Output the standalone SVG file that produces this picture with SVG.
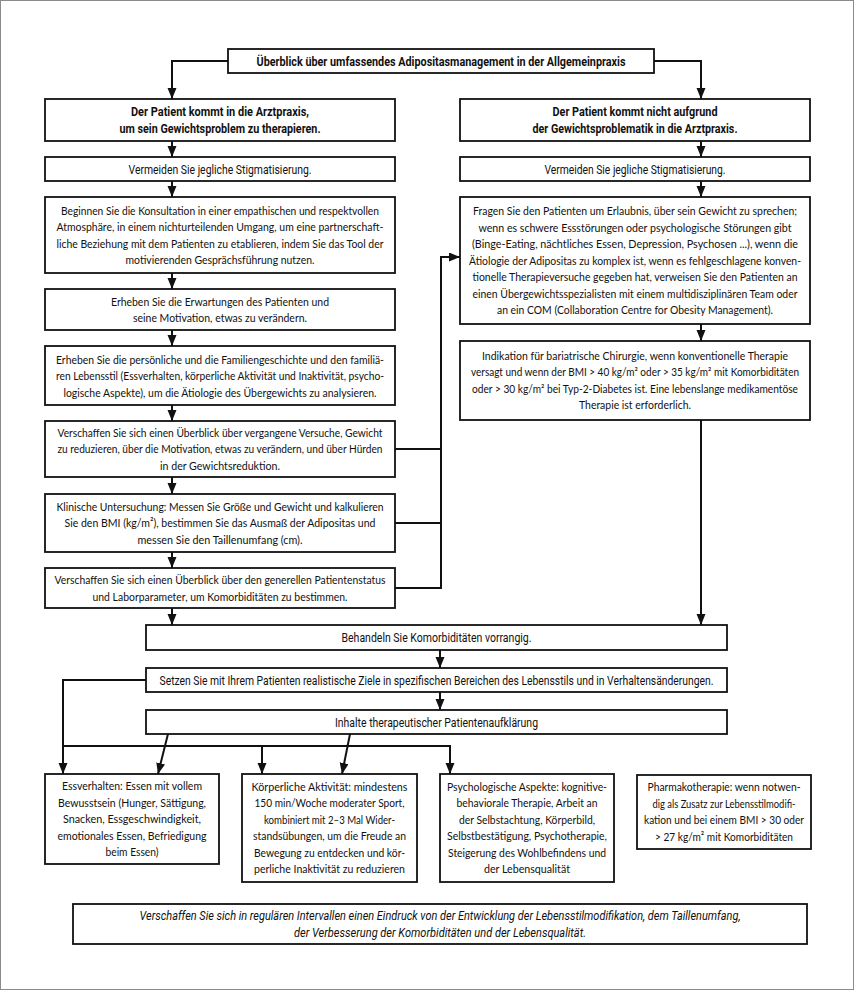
<svg xmlns="http://www.w3.org/2000/svg" width="854" height="990" viewBox="0 0 854 990">
<style>
.box{fill:#fff;stroke:#111;stroke-width:1.8}
.t{font-family:Lato,"Open Sans","Liberation Sans",Arial,sans-serif;font-size:12.3px;fill:#111;text-anchor:middle}
.s{font-size:11.4px}
.c{font-family:"Liberation Sans Narrow",Roboto,"Liberation Sans",Arial,sans-serif;font-size:13px;fill:#111;text-anchor:middle}
.b{font-weight:bold}
.i{font-style:italic}
.ln{fill:none;stroke:#111;stroke-width:2}
</style>
<defs>
<marker id="ah" markerUnits="userSpaceOnUse" markerWidth="12" markerHeight="10" refX="11" refY="4.5" orient="auto">
<path d="M0,0 L11,4.5 L0,9 z" fill="#111"/>
</marker>
</defs>
<rect x="0.5" y="0.5" width="853" height="989" fill="#fff" stroke="#8a8a8a" stroke-width="1"/>

<g id="connectors">
<path class="ln" d="M228,61 H172 V99" marker-end="url(#ah)"/>
<path class="ln" d="M654,61 H701 V99" marker-end="url(#ah)"/>
<path class="ln" d="M172,141 V157" marker-end="url(#ah)"/>
<path class="ln" d="M172,181 V197" marker-end="url(#ah)"/>
<path class="ln" d="M172,273 V289" marker-end="url(#ah)"/>
<path class="ln" d="M172,330 V346" marker-end="url(#ah)"/>
<path class="ln" d="M172,405 V421" marker-end="url(#ah)"/>
<path class="ln" d="M172,477 V494" marker-end="url(#ah)"/>
<path class="ln" d="M172,552 V568" marker-end="url(#ah)"/>
<path class="ln" d="M172,608 V625" marker-end="url(#ah)"/>
<path class="ln" d="M701,141 V157" marker-end="url(#ah)"/>
<path class="ln" d="M701,181 V197" marker-end="url(#ah)"/>
<path class="ln" d="M701,324 V341" marker-end="url(#ah)"/>
<path class="ln" d="M701,420 V625" marker-end="url(#ah)"/>
<path class="ln" d="M395,449 H441"/>
<path class="ln" d="M395,523 H441"/>
<path class="ln" d="M395,588 H441 V257 H460" marker-end="url(#ah)"/>
<path class="ln" d="M440,650 V668" marker-end="url(#ah)"/>
<path class="ln" d="M440,692 V710" marker-end="url(#ah)"/>
<path class="ln" d="M146,680 H63 V774" marker-end="url(#ah)"/>
<path class="ln" d="M63,746 H450 V774" marker-end="url(#ah)"/>
<path class="ln" d="M262,746 V774" marker-end="url(#ah)"/>
<path class="ln" d="M168,734 L158,774" marker-end="url(#ah)"/>
<path class="ln" d="M350,734 L342,774" marker-end="url(#ah)"/>
</g>

<g id="top">
<rect class="box" x="228" y="49" width="426" height="24"/>
<text class="c b" x="441" y="65.5" textLength="369" lengthAdjust="spacingAndGlyphs">Überblick über umfassendes Adipositasmanagement in der Allgemeinpraxis</text>
</g>

<g id="left-header">
<rect class="box" x="45" y="99" width="350" height="42"/>
<text class="c b" x="220" y="116" textLength="178" lengthAdjust="spacingAndGlyphs">Der Patient kommt in die Arztpraxis,</text>
<text class="c b" x="220" y="132.5" textLength="201" lengthAdjust="spacingAndGlyphs">um sein Gewichtsproblem zu therapieren.</text>
</g>

<g id="right-header">
<rect class="box" x="460" y="99" width="350" height="42"/>
<text class="c b" x="635" y="116" textLength="165" lengthAdjust="spacingAndGlyphs">Der Patient kommt nicht aufgrund</text>
<text class="c b" x="635" y="132.5" textLength="205" lengthAdjust="spacingAndGlyphs">der Gewichtsproblematik in die Arztpraxis.</text>
</g>

<g id="left-stigma">
<rect class="box" x="45" y="157" width="350" height="24"/>
<text class="c" x="220" y="173.5" textLength="183" lengthAdjust="spacingAndGlyphs">Vermeiden Sie jegliche Stigmatisierung.</text>
</g>

<g id="right-stigma">
<rect class="box" x="460" y="157" width="350" height="24"/>
<text class="c" x="635" y="173.5" textLength="181" lengthAdjust="spacingAndGlyphs">Vermeiden Sie jegliche Stigmatisierung.</text>
</g>

<g id="left-konsultation">
<rect class="box" x="45" y="197" width="350" height="76"/>
<text class="t" x="220" y="214.5" textLength="318" lengthAdjust="spacingAndGlyphs">Beginnen Sie die Konsultation in einer empathischen und respektvollen</text>
<text class="t" x="220" y="231" textLength="327" lengthAdjust="spacingAndGlyphs">Atmosphäre, in einem nichturteilenden Umgang, um eine partnerschaft-</text>
<text class="t" x="220" y="247.5" textLength="327" lengthAdjust="spacingAndGlyphs">liche Beziehung mit dem Patienten zu etablieren, indem Sie das Tool der</text>
<text class="t" x="220" y="264" textLength="189" lengthAdjust="spacingAndGlyphs">motivierenden Gesprächsführung nutzen.</text>
</g>

<g id="left-erwartungen">
<rect class="box" x="45" y="289" width="350" height="41"/>
<text class="t" x="220" y="305.5" textLength="218" lengthAdjust="spacingAndGlyphs">Erheben Sie die Erwartungen des Patienten und</text>
<text class="t" x="220" y="322" textLength="174" lengthAdjust="spacingAndGlyphs">seine Motivation, etwas zu verändern.</text>
</g>

<g id="left-anamnese">
<rect class="box" x="45" y="346" width="350" height="59"/>
<text class="t" x="220" y="363.5" textLength="328" lengthAdjust="spacingAndGlyphs">Erheben Sie die persönliche und die Familiengeschichte und den familiä-</text>
<text class="t s" x="220" y="380" textLength="328" lengthAdjust="spacingAndGlyphs">ren Lebensstil (Essverhalten, körperliche Aktivität und Inaktivität, psycho-</text>
<text class="t" x="220" y="396.5" textLength="313" lengthAdjust="spacingAndGlyphs">logische Aspekte), um die Ätiologie des Übergewichts zu analysieren.</text>
</g>

<g id="left-versuche">
<rect class="box" x="45" y="421" width="350" height="56"/>
<text class="t" x="220" y="436.5" textLength="325" lengthAdjust="spacingAndGlyphs">Verschaffen Sie sich einen Überblick über vergangene Versuche, Gewicht</text>
<text class="t" x="220" y="453" textLength="325" lengthAdjust="spacingAndGlyphs">zu reduzieren, über die Motivation, etwas zu verändern, und über Hürden</text>
<text class="t" x="220" y="469.5" textLength="120" lengthAdjust="spacingAndGlyphs">in der Gewichtsreduktion.</text>
</g>

<g id="left-untersuchung">
<rect class="box" x="45" y="494" width="350" height="58"/>
<text class="t" x="220" y="510.5" textLength="327" lengthAdjust="spacingAndGlyphs">Klinische Untersuchung: Messen Sie Größe und Gewicht und kalkulieren</text>
<text class="t" x="220" y="527" textLength="311" lengthAdjust="spacingAndGlyphs">Sie den BMI (kg/m²), bestimmen Sie das Ausmaß der Adipositas und</text>
<text class="t" x="220" y="543.5" textLength="165" lengthAdjust="spacingAndGlyphs">messen Sie den Taillenumfang (cm).</text>
</g>

<g id="left-status">
<rect class="box" x="45" y="568" width="350" height="40"/>
<text class="t" x="220" y="584" textLength="331" lengthAdjust="spacingAndGlyphs">Verschaffen Sie sich einen Überblick über den generellen Patientenstatus</text>
<text class="t" x="220" y="600.5" textLength="255" lengthAdjust="spacingAndGlyphs">und Laborparameter, um Komorbiditäten zu bestimmen.</text>
</g>

<g id="right-erlaubnis">
<rect class="box" x="460" y="197" width="350" height="127"/>
<text class="t s" x="635" y="215" textLength="324" lengthAdjust="spacingAndGlyphs">Fragen Sie den Patienten um Erlaubnis, über sein Gewicht zu sprechen;</text>
<text class="t s" x="635" y="231.5" textLength="313" lengthAdjust="spacingAndGlyphs">wenn es schwere Essstörungen oder psychologische Störungen gibt</text>
<text class="t s" x="635" y="248" textLength="326" lengthAdjust="spacingAndGlyphs">(Binge-Eating, nächtliches Essen, Depression, Psychosen ...), wenn die</text>
<text class="t s" x="635" y="264.5" textLength="332" lengthAdjust="spacingAndGlyphs">Ätiologie der Adipositas zu komplex ist, wenn es fehlgeschlagene konven-</text>
<text class="t s" x="635" y="281" textLength="325" lengthAdjust="spacingAndGlyphs">tionelle Therapieversuche gegeben hat, verweisen Sie den Patienten an</text>
<text class="t s" x="635" y="297.5" textLength="325" lengthAdjust="spacingAndGlyphs">einen Übergewichtsspezialisten mit einem multidisziplinären Team oder</text>
<text class="t s" x="635" y="314" textLength="276" lengthAdjust="spacingAndGlyphs">an ein COM (Collaboration Centre for Obesity Management).</text>
</g>

<g id="right-chirurgie">
<rect class="box" x="460" y="341" width="350" height="79"/>
<text class="t s" x="635" y="359.5" textLength="306" lengthAdjust="spacingAndGlyphs">Indikation für bariatrische Chirurgie, wenn konventionelle Therapie</text>
<text class="t s" x="635" y="376" textLength="328" lengthAdjust="spacingAndGlyphs">versagt und wenn der BMI &gt; 40 kg/m² oder &gt; 35 kg/m² mit Komorbiditäten</text>
<text class="t s" x="635" y="392.5" textLength="326" lengthAdjust="spacingAndGlyphs">oder &gt; 30 kg/m² bei Typ-2-Diabetes ist. Eine lebenslange medikamentöse</text>
<text class="t s" x="635" y="409" textLength="112" lengthAdjust="spacingAndGlyphs">Therapie ist erforderlich.</text>
</g>

<g id="komorbiditaeten">
<rect class="box" x="146" y="625" width="581" height="25"/>
<text class="c" x="436.5" y="642" textLength="190" lengthAdjust="spacingAndGlyphs">Behandeln Sie Komorbiditäten vorrangig.</text>
</g>

<g id="ziele">
<rect class="box" x="146" y="668" width="581" height="24"/>
<text class="c" x="436.5" y="684.5" textLength="554" lengthAdjust="spacingAndGlyphs">Setzen Sie mit Ihrem Patienten realistische Ziele in spezifischen Bereichen des Lebensstils und in Verhaltensänderungen.</text>
</g>

<g id="aufklaerung">
<rect class="box" x="146" y="710" width="581" height="24"/>
<text class="c" x="436.5" y="726.5" textLength="203" lengthAdjust="spacingAndGlyphs">Inhalte therapeutischer Patientenaufklärung</text>
</g>

<g id="essverhalten">
<rect class="box" x="45" y="774" width="174" height="90"/>
<text class="t" x="132" y="790" textLength="140" lengthAdjust="spacingAndGlyphs">Essverhalten: Essen mit vollem</text>
<text class="t" x="132" y="806.5" textLength="148" lengthAdjust="spacingAndGlyphs">Bewusstsein (Hunger, Sättigung,</text>
<text class="t" x="132" y="823" textLength="138" lengthAdjust="spacingAndGlyphs">Snacken, Essgeschwindigkeit,</text>
<text class="t" x="132" y="839.5" textLength="149" lengthAdjust="spacingAndGlyphs">emotionales Essen, Befriedigung</text>
<text class="t" x="132" y="856" textLength="53" lengthAdjust="spacingAndGlyphs">beim Essen)</text>
</g>

<g id="aktivitaet">
<rect class="box" x="242" y="774" width="175" height="108"/>
<text class="t" x="329.5" y="790.75" textLength="156" lengthAdjust="spacingAndGlyphs">Körperliche Aktivität: mindestens</text>
<text class="t" x="329.5" y="807.25" textLength="150" lengthAdjust="spacingAndGlyphs">150 min/Woche moderater Sport,</text>
<text class="t" x="329.5" y="823.75" textLength="131" lengthAdjust="spacingAndGlyphs">kombiniert mit 2–3 Mal Wider-</text>
<text class="t" x="329.5" y="840.25" textLength="153" lengthAdjust="spacingAndGlyphs">standsübungen, um die Freude an</text>
<text class="t" x="329.5" y="856.75" textLength="151" lengthAdjust="spacingAndGlyphs">Bewegung zu entdecken und kör-</text>
<text class="t" x="329.5" y="873.25" textLength="151" lengthAdjust="spacingAndGlyphs">perliche Inaktivität zu reduzieren</text>
</g>

<g id="psychologie">
<rect class="box" x="440" y="774" width="174" height="108"/>
<text class="t" x="527" y="790.75" textLength="160" lengthAdjust="spacingAndGlyphs">Psychologische Aspekte: kognitive-</text>
<text class="t" x="527" y="807.25" textLength="141" lengthAdjust="spacingAndGlyphs">behaviorale Therapie, Arbeit an</text>
<text class="t" x="527" y="823.75" textLength="136" lengthAdjust="spacingAndGlyphs">der Selbstachtung, Körperbild,</text>
<text class="t" x="527" y="840.25" textLength="160" lengthAdjust="spacingAndGlyphs">Selbstbestätigung, Psychotherapie,</text>
<text class="t" x="527" y="856.75" textLength="158" lengthAdjust="spacingAndGlyphs">Steigerung des Wohlbefindens und</text>
<text class="t" x="527" y="873.25" textLength="86" lengthAdjust="spacingAndGlyphs">der Lebensqualität</text>
</g>

<g id="pharmakotherapie">
<rect class="box" x="637" y="775" width="174" height="74"/>
<text class="t" x="724" y="791.25" textLength="153" lengthAdjust="spacingAndGlyphs">Pharmakotherapie: wenn notwen-</text>
<text class="t" x="724" y="807.75" textLength="143" lengthAdjust="spacingAndGlyphs">dig als Zusatz zur Lebensstilmodifi-</text>
<text class="t" x="724" y="824.25" textLength="160" lengthAdjust="spacingAndGlyphs">kation und bei einem BMI &gt; 30 oder</text>
<text class="t" x="724" y="840.75" textLength="138" lengthAdjust="spacingAndGlyphs">&gt; 27 kg/m² mit Komorbiditäten</text>
</g>

<g id="verlauf">
<rect class="box" x="73" y="904" width="734" height="40"/>
<text class="c i" x="440" y="920" textLength="601" lengthAdjust="spacingAndGlyphs">Verschaffen Sie sich in regulären Intervallen einen Eindruck von der Entwicklung der Lebensstilmodifikation, dem Taillenumfang,</text>
<text class="c i" x="440" y="936.5" textLength="292" lengthAdjust="spacingAndGlyphs">der Verbesserung der Komorbiditäten und der Lebensqualität.</text>
</g>
</svg>
